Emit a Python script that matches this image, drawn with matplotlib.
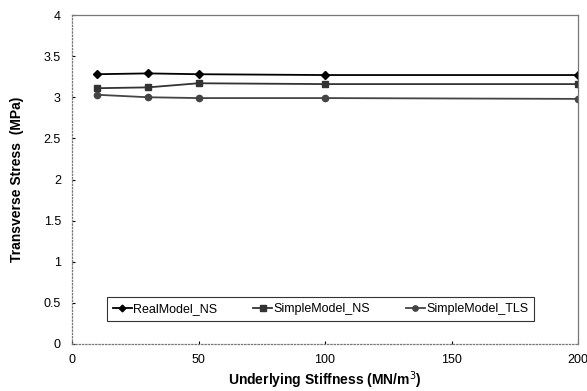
import matplotlib
matplotlib.use("Agg")
import matplotlib.pyplot as plt

plt.rcParams['font.family'] = ['Liberation Sans', 'DejaVu Sans']

stiffness = [10, 30, 50, 100, 200]
real_ns = [3.28, 3.29, 3.28, 3.27, 3.27]
simple_ns = [3.11, 3.12, 3.17, 3.16, 3.16]
simple_tls = [3.03, 3.00, 2.99, 2.99, 2.98]

fig = plt.figure(figsize=(5.87, 3.91), dpi=100)
ax = fig.add_axes([72/587, 47/391, 506/587, 329/391])

ax.plot(stiffness, real_ns, color='black', marker='D', markersize=4, lw=1.3, label='RealModel_NS')
ax.plot(stiffness, simple_ns, color='#333333', marker='s', markersize=4.5, lw=1.3, label='SimpleModel_NS')
ax.plot(stiffness, simple_tls, color='#444444', marker='o', markersize=4.5, lw=1.3, label='SimpleModel_TLS')

ax.set_xlim(0, 200)
ax.set_ylim(0, 4)
ax.set_xticks([0, 50, 100, 150, 200])
ax.set_yticks([0, 0.5, 1, 1.5, 2, 2.5, 3, 3.5, 4])
ax.set_yticklabels(['0', '0.5', '1', '1.5', '2', '2.5', '3', '3.5', '4'])
ax.tick_params(direction='in', length=2, labelsize=9)
ax.tick_params(axis='y', pad=8)
ax.tick_params(axis='x', pad=7)

ax.spines['left'].set_linestyle(':')
ax.spines['bottom'].set_linestyle(':')
for s in ax.spines.values():
    s.set_color('#777777')
    s.set_linewidth(0.9)

ax.set_xlabel('Underlying Stiffness (MN/m$^3$)', fontsize=10, fontweight='bold', labelpad=3)
ax.set_ylabel('Transverse Stress  (MPa)', fontsize=10, fontweight='bold', labelpad=14)

leg = ax.legend(loc='center', bbox_to_anchor=(0.491, 0.106), ncol=3, fontsize=9,
                frameon=True, fancybox=False, handlelength=1.5, handletextpad=0.1,
                columnspacing=2.9, borderpad=0.5, borderaxespad=0, markerscale=0.85)
leg.get_frame().set_edgecolor('black')
leg.get_frame().set_linewidth(0.8)

fig.savefig('out.png', dpi=100)
